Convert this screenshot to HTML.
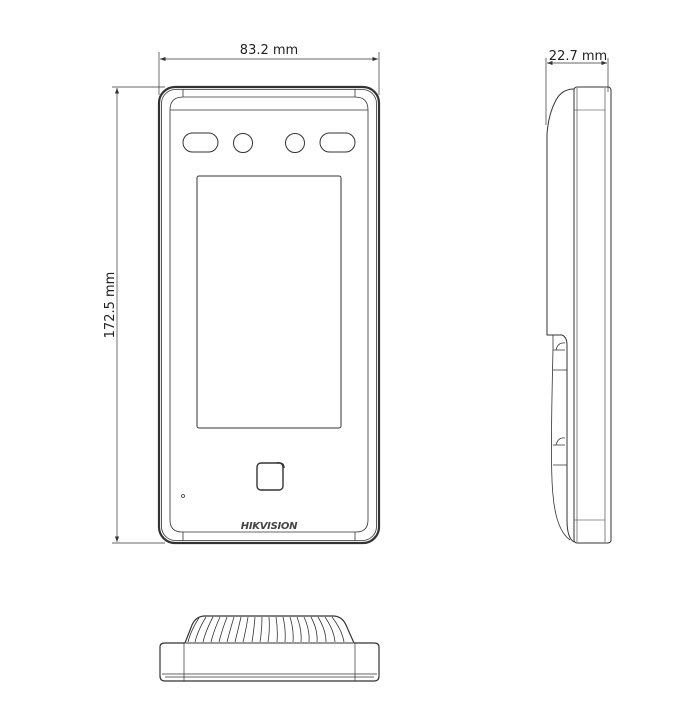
<!DOCTYPE html>
<html><head><style>body{margin:0;background:#fff}svg{display:block}text{font-family:"DejaVu Sans","Liberation Sans",sans-serif;fill:#222}</style></head><body>
<svg width="682" height="711" viewBox="0 0 682 711" xmlns="http://www.w3.org/2000/svg">
<defs><marker id="a" markerWidth="8" markerHeight="6" refX="8" refY="3" orient="auto-start-reverse"><path d="M0,0 L8,3 L0,6 z" fill="#333"/></marker></defs>
<g stroke="#333" fill="none" stroke-width="1">
<!-- front dims -->
<line x1="159" y1="52" x2="159" y2="95" stroke-width="0.7"/>
<line x1="379" y1="52" x2="379" y2="95" stroke-width="0.7"/>
<line x1="160" y1="59" x2="378" y2="59" stroke-width="0.7" marker-start="url(#a)" marker-end="url(#a)"/>
<line x1="112" y1="87" x2="165" y2="87" stroke-width="0.7"/>
<line x1="112" y1="543" x2="165" y2="543" stroke-width="0.7"/>
<line x1="117" y1="88" x2="117" y2="542" stroke-width="0.7" marker-start="url(#a)" marker-end="url(#a)"/>
<!-- front body -->
<rect x="159" y="87" width="220" height="456" rx="16" stroke-width="2.2"/>
<rect x="161.5" y="89.5" width="215" height="451" rx="14" stroke-width="0.8"/>
<path d="M183,89 V97 M355,89 V97 M170,110 Q170,97 183,97 H355 Q368,97 368,110 M170,110 H368" stroke-width="0.8"/>
<path d="M170,110 V520 Q170,532 182,532 H356 Q368,532 368,520 V110" stroke-width="0.8"/>
<path d="M183,532 V541 M355,532 V541" stroke-width="0.8"/>
<rect x="183" y="133" width="35" height="19" rx="9.5"/>
<circle cx="243" cy="143" r="9.5"/>
<circle cx="295" cy="143" r="9.5"/>
<rect x="320" y="133" width="35" height="19" rx="9.5"/>
<rect x="197" y="176" width="144" height="252" rx="2"/>
<rect x="257" y="463" width="26" height="27" rx="4" stroke-width="1.4"/>
<path d="M277,463 Q284,462 284,468" stroke-width="1.4"/>
<circle cx="183" cy="496" r="1.5" stroke-width="0.8"/>
<!-- side -->
<line x1="546" y1="58" x2="546" y2="125" stroke-width="0.7"/>
<line x1="608" y1="58" x2="608" y2="92" stroke-width="0.7"/>
<line x1="547" y1="63" x2="607" y2="63" stroke-width="0.7" marker-start="url(#a)" marker-end="url(#a)"/>
<rect x="574" y="87" width="37" height="456" rx="3"/>
<line x1="577" y1="88" x2="577" y2="542" stroke-width="0.6"/>
<line x1="605" y1="88" x2="605" y2="542" stroke-width="0.6"/>
<line x1="574" y1="110" x2="605" y2="110" stroke-width="0.6"/>
<line x1="574" y1="520" x2="605" y2="520" stroke-width="0.6"/>
<path d="M574,89 Q562,89 556,100 Q548,115 547,135 V335 H562 Q567,337 567,345 V520 Q567,538 574,542" />
<path d="M553,335 V350 Q550,470 553,495 Q556,530 570,540" stroke-width="0.8"/>
<path d="M553,350 H565 M553,370 H567 M553,445 H565 M553,465 H567" stroke-width="0.8"/>
<path d="M556,350 Q558,342 565,343 M556,445 Q558,437 565,438" stroke-width="0.8"/>
<!-- bottom -->
<path d="M160,647 Q160,643 165,643 H185 L192,625 Q196,616 205,616 H333 Q342,616 346,625 L354,643 H374 Q379,643 379,647 V676 Q379,681 374,681 H165 Q160,681 160,676 Z" stroke-width="1.2"/>
<line x1="186" y1="643" x2="353" y2="643"/>
<line x1="184" y1="643" x2="184" y2="681" stroke-width="0.7"/>
<line x1="355" y1="643" x2="355" y2="681" stroke-width="0.7"/>
<line x1="162" y1="674" x2="377" y2="674" stroke-width="0.7"/>
<line x1="165" y1="677" x2="374" y2="677" stroke-width="0.7"/>
<g stroke-width="0.8">
<path d="M199,618 Q191,630 188,642 M206,617 Q198,630 195,642 M213,617 Q206,630 203,642 M220,617 Q214,630 211,642 M227,617 Q222,630 219,642 M234,617 Q230,630 227,642 M241,617 Q238,630 235,642 M248,617 Q246,630 243,642 M255,617 Q254,630 252,642 M262,617 Q262,630 260,642 M269,617 Q270,630 268,642 M276,617 Q278,630 277,642 M283,617 Q286,630 285,642 M290,617 Q294,630 293,642 M297,617 Q302,630 301,642 M304,617 Q310,630 309,642 M311,617 Q318,630 317,642 M318,617 Q326,630 326,642 M325,617 Q334,630 335,642 M332,617 Q342,630 344,642"/>
</g>
</g>
<text x="269" y="54" font-size="13" text-anchor="middle">83.2 mm</text>
<text x="578" y="60" font-size="13" text-anchor="middle">22.7 mm</text>
<text x="0" y="0" font-size="13" text-anchor="middle" transform="translate(114,305) rotate(-90)">172.5 mm</text>
<text x="269" y="529" font-size="10" font-weight="bold" font-style="italic" text-anchor="middle" style="fill:#444;letter-spacing:-0.3px">HIKVISION</text>
</svg>
</body></html>
